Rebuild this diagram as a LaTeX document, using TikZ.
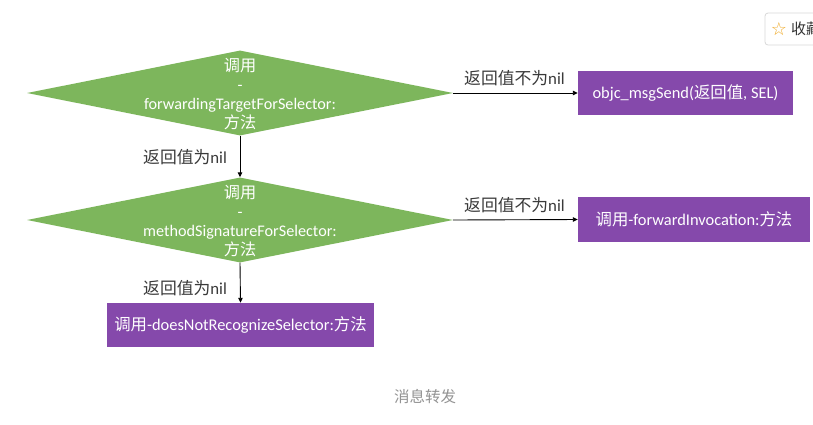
\documentclass[tikz,border=0pt]{standalone}
\usepackage{fontspec}
\setmainfont{Carlito}
\newfontfamily\cjk{Noto Sans CJK SC}
\newfontfamily\symf{DejaVu Sans}
\usetikzlibrary{shapes.geometric,arrows.meta}
\definecolor{dgreen}{HTML}{7DB65C}
\definecolor{dpurple}{HTML}{8549AB}
\definecolor{lbl}{HTML}{3A3A3A}
\begin{document}
\begin{tikzpicture}[x=1pt,y=-1pt,
  dec/.style={diamond,fill=dgreen,draw=none,inner sep=0pt,minimum width=426pt,minimum height=85pt},
  dtext/.style={text=white,align=center,font=\fontsize{16.2}{19}\selectfont,inner sep=0pt},
  act/.style={rectangle,fill=dpurple,draw=none,text=white,font=\fontsize{16.4}{18}\selectfont,inner sep=0pt},
  conn/.style={draw=black,line width=0.9pt,-{Triangle[length=5pt,width=4.5pt]}},
  elbl/.style={text=lbl,font=\fontsize{16.8}{18}\selectfont,inner sep=0pt}
]
\useasboundingbox (0,0) rectangle (813,424);
\fill[white] (0,0) rectangle (813,424);

% diamonds
\node[dec] (d1) at (240,93) {};
\node[dtext] (d1t) at (240,94) {{\cjk 调用}\\-\\forwardingTargetForSelector:\\{\cjk 方法}};
\node[dec] (d2) at (240,220) {};
\node[dtext] (d2t) at (240,221) {{\cjk 调用}\\-\\methodSignatureForSelector:\\{\cjk 方法}};

% action boxes
\node[act,minimum width=215pt,minimum height=44pt] (r1) at (685.5,93) {objc\_msgSend({\cjk 返回值}, SEL)};
\node[act,minimum width=232pt,minimum height=45pt] (r2) at (694,219.5) {{\cjk 调用}-forwardInvocation:{\cjk 方法}};
\node[act,minimum width=267pt,minimum height=44pt] (r3) at (240.5,325) {{\cjk 调用}-doesNotRecognizeSelector:{\cjk 方法}};

% connectors
\draw[conn] (d1.east) -- (r1.west);
\draw[conn] (d2.east) -- (r2.west);
\draw[conn] (d1.south) -- (d2.north);
\draw[conn] (d2.south) -- (r3.north);

% edge labels
\node[elbl,anchor=base west] (l1) at (464,84) {{\cjk 返回值不为}nil};
\node[elbl,anchor=base west] (l2) at (464,211) {{\cjk 返回值不为}nil};
\node[elbl,anchor=base west] (l3) at (143,163) {{\cjk 返回值为}nil};
\node[elbl,anchor=base west] (l4) at (143,294) {{\cjk 返回值为}nil};

% caption
\node[text=gray!85,font=\cjk\fontsize{15.5}{18}\selectfont,inner sep=0pt] (cap) at (425,397) {消息转发};

% bookmark button (clipped at the right edge, as in the reference)
\begin{scope}
\clip (0,0) rectangle (813,424);
\draw[draw=gray!30,fill=white,rounded corners=3pt,line width=0.8pt] (765,13) rectangle (830,45);
\node[text={rgb,255:red,240;green,170;blue,40},font=\symf\fontsize{18}{18}\selectfont,inner sep=0pt] (star) at (779,29) {☆};
\node[text=black!80,font=\cjk\fontsize{15}{16}\selectfont,inner sep=0pt,anchor=west] (fav) at (791,29) {收藏};
\end{scope}
\end{tikzpicture}
\end{document}
